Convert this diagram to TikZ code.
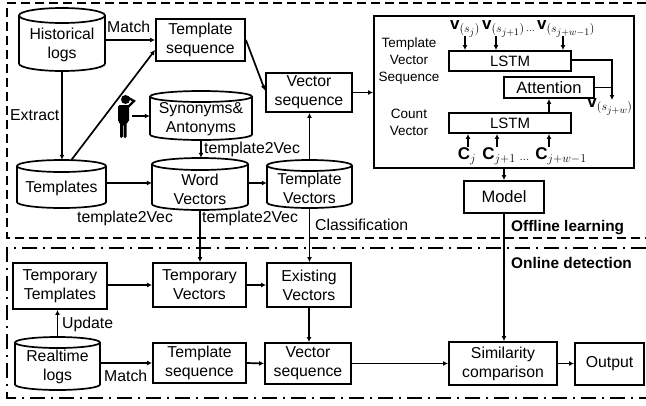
\documentclass[tikz,border=0pt]{standalone}
\usepackage{fontspec}
\setmainfont{Liberation Sans}
\usetikzlibrary{arrows.meta}
\DeclareMathSizes{14}{17}{12.5}{10}
\tikzset{
  line/.style={line width=1.7pt,black},
  conn/.style={line,-{Latex[length=5pt,width=5pt]}},
  boxn/.style={draw,line width=1.9pt,inner sep=0pt,align=center,font=\fontsize{15.8}{19}\selectfont},
  cyloutline/.style={inner sep=0pt,minimum size=0pt},
  cyltext/.style={inner sep=0pt,align=center,font=\fontsize{15.8}{19}\selectfont},
  lab/.style={inner sep=0pt,font=\fontsize{15.8}{19}\selectfont},
  side/.style={inner sep=0pt,align=center,font=\fontsize{13.5}{17}\selectfont},
  boldlab/.style={inner sep=0pt,font=\fontsize{15.4}{18}\selectfont\bfseries},
  mlab/.style={inner sep=0pt,font=\fontsize{14}{16}\selectfont},
  offline/.style={line width=1.7pt,dash pattern=on 9pt off 5pt},
  online/.style={line width=1.7pt,dash pattern=on 15pt off 6pt on 2pt off 6pt}
}
% name, x1, y1, x2, y2, text
\newcommand{\rectbox}[6]{%
  \pgfmathsetmacro{\mycx}{(#2+#4)/2}\pgfmathsetmacro{\mycy}{(#3+#5)/2}%
  \pgfmathsetmacro{\myw}{#4-#2}\pgfmathsetmacro{\myh}{#5-#3}%
  \node[boxn,minimum width=\myw pt,minimum height=\myh pt] (#1) at (\mycx,\mycy) {#6};}
% name, x1, y1, x2, y2, ry, text centre y, text
\newcommand{\cylbox}[8]{%
  \pgfmathsetmacro{\mycx}{(#2+#4)/2}\pgfmathsetmacro{\mycy}{(#3+#5)/2}%
  \pgfmathsetmacro{\myw}{#4-#2}\pgfmathsetmacro{\myh}{#5-#3}%
  \pgfmathsetmacro{\myrx}{(#4-#2)/2}%
  \pgfmathsetmacro{\myyt}{#3+#6}\pgfmathsetmacro{\myyb}{#5-#6}%
  \node[cyloutline,minimum width=\myw pt,minimum height=\myh pt] (#1) at (\mycx,\mycy) {};
  \draw[line] (\mycx,\myyt) ellipse [x radius=\myrx pt,y radius=#6 pt];
  \draw[line] (#2,\myyt) -- (#2,\myyb) arc[start angle=180,end angle=360,x radius=\myrx pt,y radius=#6 pt] -- (#4,\myyt);
  \node[cyltext] (#1-t) at (\mycx,#7) {#8};}
\begin{document}
\begin{tikzpicture}[x=1pt,y=-1pt]
\useasboundingbox (0,0) rectangle (646,405);
% frames
\coordinate (ol1) at (646,3); \coordinate (ol2) at (7,3); \coordinate (ol3) at (7,238); \coordinate (ol4) at (646,238);
\draw[offline] (ol1) -- (ol2) -- (ol3) -- (ol4);
\coordinate (on1) at (646,248); \coordinate (on2) at (7,248); \coordinate (on3) at (7,398); \coordinate (on4) at (646,398);
\draw[online] (on1) -- (on2) -- (on3) -- (on4);
% upper left
\cylbox{hist}{19}{8}{105}{71}{7.5}{45}{Historical\\logs}
\cylbox{tmpl}{17}{160}{106}{208}{6}{188}{Templates}
\cylbox{syn}{150}{91}{252}{140}{5.5}{119.5}{Synonyms\&\\Antonyms}
\cylbox{word}{152}{158}{248}{210}{6}{189}{Word\\Vectors}
\cylbox{tvec}{267}{160}{352}{208}{5.5}{188}{Template\\Vectors}
\rectbox{ts}{156}{19}{245}{61}{Template\\sequence}
\rectbox{vs}{266}{73}{352}{112}{Vector\\sequence}
% model panel
\rectbox{big}{374}{16}{634}{168}{}
\rectbox{lstma}{449}{51}{571}{71}{\fontsize{15}{18}\selectfont LSTM}
\rectbox{att}{504}{77}{594}{98}{\fontsize{16.5}{19}\selectfont Attention}
\rectbox{lstmb}{449}{113}{571}{133}{\fontsize{15}{18}\selectfont LSTM}
\rectbox{model}{464}{181}{544}{213}{\fontsize{16.5}{19}\selectfont Model}
\node[side] (tvs) at (409,61) {Template\\Vector\\Sequence};
\node[side] (cv) at (409,122) {Count\\Vector};
\node[mlab] (v1) at (465,29) {$\mathbf{v}_{(s_j)}$};
\node[mlab] (v2) at (503.5,29) {$\mathbf{v}_{(s_{j+1})}$};
\node[mlab] (vd) at (530.5,31) {$\scriptscriptstyle\ldots$};
\node[mlab] (v3) at (566,29) {$\mathbf{v}_{(s_{j+w-1})}$};
\node[mlab] (v4) at (610,107) {$\mathbf{v}_{(s_{j+w})}$};
\node[mlab] (c1) at (467,156) {$\mathbf{C}_j$};
\node[mlab] (c2) at (499,156) {$\mathbf{C}_{j+1}$};
\node[mlab] (cd) at (524.5,160) {$\scriptstyle\ldots$};
\node[mlab] (c3) at (561,156) {$\mathbf{C}_{j+w-1}$};
\coordinate (a1) at (465,36); \coordinate (a2) at (496,36); \coordinate (a3) at (563,36);
\coordinate (b1) at (468,147); \coordinate (b2) at (497,147); \coordinate (b3) at (549,147);
\coordinate (turn) at (612,60);
\coordinate (vend) at (612,100);
\draw[conn] (a1) -- (a1 |- lstma.north);
\draw[conn] (a2) -- (a2 |- lstma.north);
\draw[conn] (a3) -- (a3 |- lstma.north);
\draw[conn] (b1) -- (b1 |- lstmb.south);
\draw[conn] (b2) -- (b2 |- lstmb.south);
\draw[conn] (b3) -- (b3 |- lstmb.south);
\draw[conn] (b3 |- lstmb.north) -- (b3 |- att.south);
\draw[conn] (lstma.east |- turn) -- (turn) -- (vend);
\draw[line] (att.east) -- (att.east -| turn);
% lower
\rectbox{tt}{13}{263}{107}{309}{Temporary\\Templates}
\rectbox{tv}{153}{263}{246}{307}{Temporary\\Vectors}
\rectbox{ev}{267}{263}{351}{307}{Existing\\Vectors}
\cylbox{rt}{15}{337}{100}{390}{5.5}{367}{Realtime\\logs}
\rectbox{ts2}{153}{343}{246}{383}{Template\\sequence}
\rectbox{vs2}{265}{343}{351}{384}{Vector\\sequence}
\rectbox{sim}{449}{342}{557}{385}{Similarity\\comparison}
\rectbox{out}{575}{343}{644}{385}{Output}
% person
\fill (125.5,99.5) circle[radius=4.5pt];
\fill[rounded corners=1.5pt] (118,105) -- (129,105) -- (129,122) -- (126.5,122) -- (126.5,138) -- (123.5,138) -- (123.5,124) -- (122.8,124) -- (122.8,138) -- (120,138) -- (120,122) -- (118,122) -- cycle;
\draw[line width=2.2pt] (128,107) -- (134,101) -- (127,97);
\coordinate (person) at (132,116);
% connectors
\draw[conn] (hist.east |- ts.west) -- (ts.west);
\draw[conn] (hist.south) -- (hist.south |- tmpl.north);
\draw[conn] ([xshift=10pt]tmpl.north) -- ([yshift=-10pt]ts.west);
\draw[conn] (ts.east) -- ([yshift=2pt]vs.west);
\draw[conn] (vs.east) -- (vs.east -| big.west);
\draw[conn] (big.south -| model.north) -- (model.north);
\draw[conn] (person) -- (person -| syn.west);
\draw[conn] (syn.south) -- (syn.south |- word.north);
\coordinate (mid) at (106,183);
\draw[conn] (mid) -- (mid -| word.west);
\draw[conn] (mid -| word.east) -- (mid -| tvec.west);
\draw[conn] (tvec.north) -- (tvec.north |- vs.south);
\draw[conn] (word.south) -- (word.south |- tv.north);
\draw[conn] (tvec.south) -- (tvec.south |- ev.north);
\draw[conn] (tt.east |- tv.west) -- (tv.west);
\draw[conn] (tv.east) -- (ev.west);
\draw[conn] (rt.north) -- (rt.north |- tt.south);
\draw[conn] (rt.east |- ts2.west) -- (ts2.west);
\draw[conn] (ts2.east) -- (vs2.west);
\draw[conn] (ev.south) -- (ev.south |- vs2.north);
\draw[conn] (vs2.east) -- (vs2.east -| sim.west);
\draw[conn] (model.south) -- (model.south |- sim.north);
\draw[conn] (sim.east) -- (sim.east -| out.west);
% labels
\node[lab,anchor=west] (lm1) at (107,27) {Match};
\node[lab,anchor=west] (lex) at (10,115) {Extract};
\node[lab,anchor=west] (l2v1) at (204,149) {template2Vec};
\node[lab,anchor=west] (l2v2) at (77,218) {template2Vec};
\node[lab,anchor=west] (l2v3) at (202,218) {template2Vec};
\node[lab,anchor=west] (lcl) at (315,225) {Classification};
\node[lab,anchor=west] (lup) at (62,324) {Update};
\node[lab,anchor=west] (lm2) at (104,376) {Match};
\node[boldlab,anchor=west] (loff) at (511,228) {Offline learning};
\node[boldlab,anchor=west] (lon) at (511,263) {Online detection};
\end{tikzpicture}
\end{document}
